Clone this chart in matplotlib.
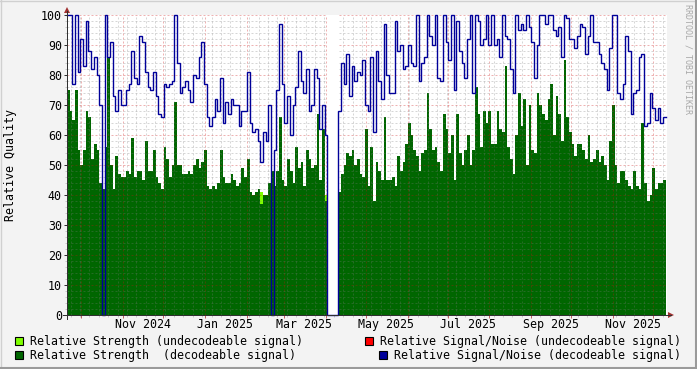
import numpy as np
import matplotlib
matplotlib.use("Agg")
import matplotlib.pyplot as plt
import matplotlib.dates as mdates
from matplotlib.patches import Rectangle, Polygon
from matplotlib.lines import Line2D
from datetime import datetime, timedelta

# ---------------- data (2-day samples starting 2024-09-20) ----------------
start = datetime(2024, 9, 20, 6)
step_days = 2
span_days = 447

strength_dec = [
    75, 68, 65, 75, 55, 50, 55, 68, 66, 52, 57, 55, 44, 42, 56, 86, 50, 42, 53, 47,
    46, 46, 48, 47, 59, 46, 48, 48, 45, 58, 48, 48, 55, 46, 44, 42, 56, 52, 46, 50,
    71, 50, 50, 47, 47, 48, 47, 50, 52, 49, 51, 55, 43, 42, 43, 42, 44, 55, 46, 44,
    44, 47, 45, 43, 44, 49, 46, 52, 41, 40, 41, 42, 37, 40, 40, 44, 48, 43, 48, 66,
    45, 43, 52, 48, 44, 56, 49, 51, 43, 55, 52, 49, 50, 67, 45, 62, 38, None, None, None,
    None, 41, 47, 50, 54, 53, 55, 50, 52, 47, 46, 62, 43, 56, 38, 51, 48, 45, 66, 45,
    45, 46, 43, 53, 48, 51, 57, 64, 60, 55, 53, 48, 54, 55, 74, 62, 55, 56, 51, 48,
    67, 62, 54, 60, 45, 67, 54, 50, 55, 60, 50, 55, 76, 67, 56, 68, 64, 68, 57, 57,
    68, 62, 61, 83, 56, 52, 47, 60, 74, 63, 72, 50, 70, 55, 54, 74, 70, 67, 65, 72,
    77, 60, 73, 67, 58, 85, 66, 61, 57, 53, 57, 57, 55, 52, 60, 51, 52, 55, 51, 53,
    50, 45, 58, 70, 50, 44, 48, 48, 45, 43, 42, 48, 43, 42, 64, 44, 38, 40, 49, 42,
    44, 44, 45,
]

snr_dec = [
    100, 100, 77, 100, 81, 92, 83, 98, 88, 82, 86, 80, 70, 0, 100, 86, 91, 73, 68, 75,
    70, 70, 75, 77, 88, 79, 77, 93, 91, 81, 76, 75, 81, 73, 67, 66, 77, 76, 77, 78,
    100, 84, 74, 76, 78, 75, 71, 80, 79, 86, 91, 77, 66, 63, 66, 72, 68, 79, 64, 71,
    67, 72, 70, 70, 63, 68, 68, 81, 64, 61, 62, 58, 51, 61, 58, 70, 0, 55, 75, 97,
    77, 64, 73, 60, 70, 76, 88, 78, 74, 82, 68, 70, 82, 79, 62, 70, 60, 0, 0, 0,
    0, 68, 84, 77, 87, 73, 83, 78, 81, 80, 85, 70, 68, 86, 61, 88, 78, 72, 97, 80,
    74, 74, 98, 88, 90, 82, 83, 90, 84, 83, 100, 78, 84, 86, 100, 93, 90, 100, 79, 78,
    100, 91, 85, 100, 75, 98, 88, 84, 79, 92, 100, 74, 100, 98, 90, 92, 100, 90, 100, 90,
    92, 86, 100, 93, 92, 82, 74, 100, 95, 97, 95, 100, 96, 91, 79, 90, 100, 100, 97, 100,
    100, 95, 93, 96, 86, 100, 99, 92, 92, 89, 93, 97, 96, 87, 93, 100, 91, 91, 87, 84,
    82, 75, 89, 100, 100, 74, 72, 77, 93, 88, 67, 74, 75, 86, 87, 63, 64, 74, 69, 65,
    69, 64, 66,
]

# sparse undecodeable strength samples (sample index, value)
strength_undec_idx = [72, 96]
strength_undec_val = [41, 40]

y_ticks = list(range(0, 101, 10))
x_label_months = [(2024, 11), (2025, 1), (2025, 3), (2025, 5), (2025, 7), (2025, 9), (2025, 11)]

legend_items = [
    ("Relative Strength (undecodeable signal)", "#7FFF00"),
    ("Relative Signal/Noise (undecodeable signal)", "#FF0000"),
    ("Relative Strength  (decodeable signal)", "#006600"),
    ("Relative Signal/Noise (decodeable signal)", "#000099"),
]

# ---------------- figure ----------------
W, H = 697, 369
FONT = "DejaVu Sans Mono"
FS = 8.4
plt.rcParams["font.family"] = [FONT, "DejaVu Sans"]

fig = plt.figure(figsize=(W / 100, H / 100), dpi=100, facecolor="#F3F3F3")


def fx(px):
    return px / W


def fy(py):
    return 1 - py / H


ax = fig.add_axes([fx(67), fy(315), 600 / W, 300 / H])
ax.set_facecolor("white")

n = len(snr_dec)
edges = [start + timedelta(days=step_days * i) for i in range(n + 1)]
xe = mdates.date2num(edges)
xs = np.repeat(xe, 2)[1:-1]

str_y = np.repeat(np.array(strength_dec, dtype=float), 2)
snr_y = np.repeat(np.array(snr_dec, dtype=float), 2)
und = np.full(n, np.nan)
und[strength_undec_idx] = strength_undec_val
und_y = np.repeat(und, 2)

ax.fill_between(xs, 0, und_y, color="#7FFF00", lw=0, zorder=1.0)
ax.fill_between(xs, 0, str_y, color="#006600", lw=0, zorder=1.2)

# gap (no data) shown as blank canvas
nan_idx = np.where(np.isnan(np.array(strength_dec, dtype=float)))[0]
if len(nan_idx):
    ax.axvspan(xe[nan_idx[0]], xe[nan_idx[-1] + 1], color="white", lw=0, zorder=2.7)

ax.plot(xs, snr_y, color="#000099", lw=1.0, zorder=3, clip_on=False,
        solid_joinstyle="miter")

x0 = mdates.date2num(start)
ax.set_xlim(x0, x0 + span_days)
ax.set_ylim(0, 100)

# grid
ax.xaxis.set_major_locator(mdates.MonthLocator())
ax.xaxis.set_minor_locator(mdates.WeekdayLocator(byweekday=mdates.MO))
ax.set_yticks(y_ticks)
ax.set_yticks(range(0, 101, 2), minor=True)
ax.set_axisbelow(False)
ax.grid(which="minor", color="#7A7A7A", alpha=0.3, lw=0.72, ls=(0, (2, 2)))
ax.grid(which="major", color="#CC1010", alpha=0.32, lw=0.72, ls=(0, (2, 2)))
ax.xaxis.set_major_formatter(plt.NullFormatter())
ax.set_yticklabels([str(v) for v in y_ticks], fontsize=FS, family=FONT)
ax.tick_params(axis="x", which="major", length=2.5, width=0.72, color="#C06060", direction="out")
ax.tick_params(axis="x", which="minor", length=1.6, width=0.72, color="#C8C8C8", direction="out")
ax.tick_params(axis="y", which="major", length=2.2, width=0.72, color="#303030", pad=1.5)
ax.tick_params(axis="y", which="minor", length=1.4, width=0.72, color="#C8C8C8")
for s in ax.spines.values():
    s.set_visible(False)

# x labels centred in the month
for (yy, mm) in x_label_months:
    d = datetime(yy, mm, 16)
    ax.annotate(d.strftime("%b %Y"), xy=(mdates.date2num(d), 0),
                xycoords=("data", "axes fraction"), xytext=(0, -6.6),
                textcoords="offset points", ha="center", va="center",
                fontsize=FS, family=FONT)

# axes lines and arrows (figure pixel coords)
tf = fig.transFigure
fig.add_artist(Line2D([fx(63), fx(671)], [fy(315), fy(315)], color="#303030", lw=0.72, transform=tf))
fig.add_artist(Line2D([fx(67), fx(67)], [fy(319), fy(11)], color="#303030", lw=0.72, transform=tf))
fig.add_artist(Polygon([(fx(668), fy(312)), (fx(674), fy(315)), (fx(668), fy(318))],
                       closed=True, color="#A03030", lw=0, transform=tf))
fig.add_artist(Polygon([(fx(64), fy(13)), (fx(67), fy(7)), (fx(70), fy(13))],
                       closed=True, color="#A03030", lw=0, transform=tf))

# y axis title
fig.text(fx(11), fy(165), "Relative Quality", rotation=90, ha="center", va="center",
         fontsize=FS, family=FONT)

# watermark
fig.text(fx(688), fy(4), "RRDTOOL / TOBI OETIKER", rotation=270, ha="center", va="top",
         fontsize=6.0, family=FONT, color="#A8A8A8")

# legend
legend_pos = [(15, 341), (365, 341), (15, 355), (379, 355)]
for (label, col), (lx, ly) in zip(legend_items, legend_pos):
    fig.add_artist(Rectangle((fx(lx), fy(ly + 4)), 8 / W, 8 / H, facecolor=col,
                             edgecolor="black", lw=0.8, transform=tf))
    fig.text(fx(lx + 15), fy(ly), label, ha="left", va="center", fontsize=FS, family=FONT)

# frame shading
fig.add_artist(Line2D([0, 1], [fy(0.5), fy(0.5)], color="#D0D0D0", lw=1, transform=tf))
fig.add_artist(Line2D([fx(0.5), fx(0.5)], [0, 1], color="#D0D0D0", lw=1, transform=tf))
fig.add_artist(Line2D([0, 1], [fy(368), fy(368)], color="#9A9A9A", lw=1.5, transform=tf))
fig.add_artist(Line2D([fx(696), fx(696)], [0, 1], color="#9A9A9A", lw=1.5, transform=tf))

fig.savefig("out.png", dpi=100, facecolor=fig.get_facecolor())
